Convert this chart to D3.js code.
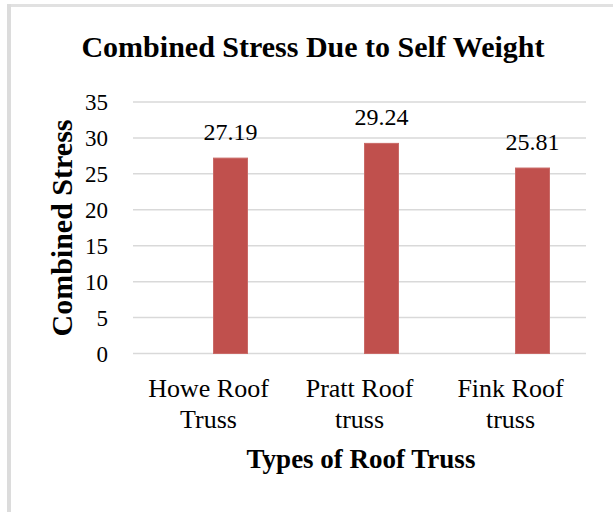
<!DOCTYPE html>
<html>
<head>
<meta charset="utf-8">
<script src="https://cdnjs.cloudflare.com/ajax/libs/d3/7.8.5/d3.min.js"></script>
<style>
  html, body { margin: 0; padding: 0; background: #fff; }
  svg { display: block; font-family: "Liberation Serif", "Times New Roman", serif; }
</style>
</head>
<body>
<svg id="chart"></svg>
<script>
// chart data
var categories = [["Howe Roof", "Truss"], ["Pratt Roof", "truss"], ["Fink Roof", "truss"]];
var stressValues = [27.19, 29.24, 25.81];
var yTicks = [0, 5, 10, 15, 20, 25, 30, 35];

var width = 613,
    height = 512,
    margin = {top: 102, right: 27, bottom: 159, left: 133};

var svg = d3.select('#chart')
    .attr('width', width)
    .attr('height', height);

// frame lines (left + top of the embedded chart box)
svg.append('rect')
    .attr('x', 7).attr('y', 4)
    .attr('width', width - 7).attr('height', 3)
    .attr('fill', '#e1e1e1');
svg.append('rect')
    .attr('x', 7).attr('y', 4)
    .attr('width', 4).attr('height', height - 4)
    .attr('fill', '#dcdcdc');

var keys = categories.map(function(c) { return c.join(' '); });

var x = d3.scaleBand()
    .domain(keys)
    .range([margin.left, width - margin.right]);

var y = d3.scaleLinear()
    .domain([0, 35])
    .range([height - margin.bottom + 0.5, margin.top]);

var barWidth = 34,
    barShift = 22; // bars sit right of the category centre

// gridlines
svg.append('g')
    .selectAll('line')
    .data(yTicks)
    .enter().append('line')
    .attr('x1', margin.left)
    .attr('x2', width - margin.right)
    .attr('y1', function(d) { return y(d); })
    .attr('y2', function(d) { return y(d); })
    .attr('stroke', '#d9d9d9')
    .attr('stroke-width', 1.5);

// y tick labels
svg.append('g')
    .selectAll('text')
    .data(yTicks)
    .enter().append('text')
    .attr('x', 108)
    .attr('y', function(d) { return y(d); })
    .attr('dy', '0.36em')
    .attr('text-anchor', 'end')
    .style('font-size', '23px')
    .attr('fill', '#000')
    .text(function(d) { return d; });

// bars
svg.append('g')
    .selectAll('rect')
    .data(stressValues)
    .enter().append('rect')
    .attr('x', function(d, i) { return x(keys[i]) + x.bandwidth() / 2 + barShift - barWidth / 2; })
    .attr('y', function(d) { return y(d); })
    .attr('width', barWidth)
    .attr('height', function(d) { return y(0) - y(d); })
    .attr('fill', '#c0504d')
    .attr('stroke', '#c96a67')
    .attr('stroke-width', 1);

// value labels
svg.append('g')
    .selectAll('text')
    .data(stressValues)
    .enter().append('text')
    .attr('x', function(d, i) { return x(keys[i]) + x.bandwidth() / 2 + barShift; })
    .attr('y', function(d) { return y(d) - 18; })
    .attr('text-anchor', 'middle')
    .style('font-size', '24px')
    .attr('fill', '#000')
    .text(function(d) { return d.toFixed(2); });

// category labels (two lines each)
var cat = svg.append('g')
    .selectAll('text')
    .data(categories)
    .enter().append('text')
    .attr('text-anchor', 'middle')
    .style('font-size', '26px')
    .attr('fill', '#000');

cat.selectAll('tspan')
    .data(function(d, i) { return d.map(function(line) { return {line: line, key: keys[i]}; }); })
    .enter().append('tspan')
    .attr('x', function(d) { return x(d.key) + x.bandwidth() / 2; })
    .attr('y', function(d, j) { return 397 + j * 31; })
    .text(function(d) { return d.line; });

// title
svg.append('text')
    .attr('x', 313)
    .attr('y', 57)
    .attr('text-anchor', 'middle')
    .style('font-size', '30px')
    .style('font-weight', 'bold')
    .text('Combined Stress Due to Self Weight');

// axis titles
svg.append('text')
    .attr('x', 361)
    .attr('y', 468)
    .attr('text-anchor', 'middle')
    .style('font-size', '27px')
    .style('font-weight', 'bold')
    .text('Types of Roof Truss');

svg.append('text')
    .attr('transform', 'translate(72,228) rotate(-90)')
    .attr('text-anchor', 'middle')
    .style('font-size', '30px')
    .style('font-weight', 'bold')
    .text('Combined Stress');
</script>
</body>
</html>
